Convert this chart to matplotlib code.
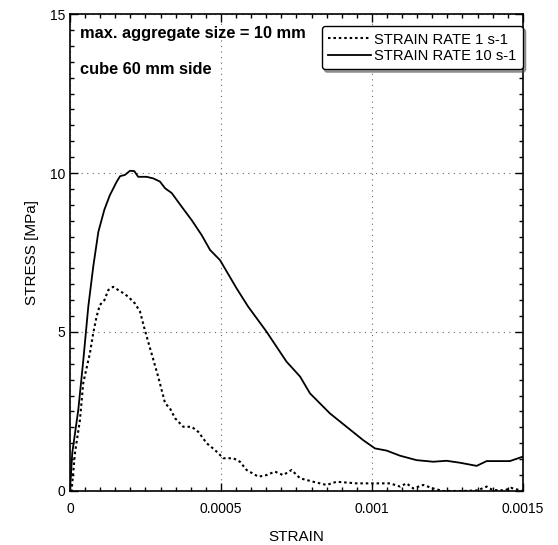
import numpy as np
import matplotlib.pyplot as plt
from matplotlib.ticker import MultipleLocator, FixedLocator, FuncFormatter

plt.rcParams['font.family'] = ['Liberation Sans', 'DejaVu Sans']

# strain rate 10 s-1 (solid)
strain_10 = [0.0, 0.0000076, 0.0000275, 0.000044, 0.0000607, 0.000077, 0.000094,
             0.000114, 0.000132, 0.000155, 0.000166, 0.000182, 0.000199, 0.000213,
             0.000226, 0.000254, 0.000276, 0.000298, 0.000315, 0.000337, 0.00037,
             0.000403, 0.000436, 0.000464, 0.000497, 0.000552, 0.00059, 0.000651,
             0.000717, 0.000762, 0.000795, 0.000861, 0.000916, 0.000971, 0.00101,
             0.001049, 0.001093, 0.001148, 0.001203, 0.001247, 0.001291, 0.001347,
             0.00138, 0.001457, 0.0015]
stress_10 = [0.0, 1.2, 2.55, 4.1, 5.8, 7.05, 8.15,
             8.85, 9.3, 9.73, 9.9, 9.94, 10.07, 10.06,
             9.88, 9.88, 9.83, 9.73, 9.52, 9.37, 8.94,
             8.52, 8.05, 7.58, 7.26, 6.37, 5.8, 5.01,
             4.07, 3.6, 3.07, 2.44, 2.02, 1.6, 1.34,
             1.27, 1.11, 0.97, 0.92, 0.95, 0.89, 0.79,
             0.94, 0.94, 1.08]

# strain rate 1 s-1 (dotted)
strain_1 = [0.0, 0.0000055, 0.0000166, 0.000033, 0.000044, 0.000066, 0.000077,
            0.000088, 0.000099, 0.000114, 0.000127, 0.000143, 0.00016, 0.000177,
            0.000193, 0.000215, 0.000232, 0.000248, 0.00027, 0.000292, 0.000315,
            0.000331, 0.000348, 0.000375, 0.000403, 0.000425, 0.000453, 0.00048,
            0.000508, 0.000541, 0.000563, 0.000585, 0.000624, 0.000651, 0.000679,
            0.000706, 0.000734, 0.000762, 0.000806, 0.00085, 0.000883, 0.000949,
            0.001004, 0.00106, 0.001093, 0.001115, 0.001137, 0.00117, 0.001203,
            0.001236, 0.0013, 0.00135, 0.00138, 0.0014, 0.00144, 0.00146, 0.0015]
stress_1 = [0.0, 0.03, 1.2, 2.23, 3.4, 4.33, 4.96,
            5.48, 5.85, 6.0, 6.32, 6.42, 6.32, 6.22,
            6.11, 5.9, 5.64, 5.06, 4.33, 3.6, 2.76,
            2.6, 2.29, 2.02, 2.02, 1.86, 1.5, 1.29,
            1.03, 1.03, 0.92, 0.66, 0.45, 0.5, 0.61,
            0.5, 0.66, 0.4, 0.29, 0.19, 0.29, 0.24,
            0.24, 0.24, 0.14, 0.24, 0.08, 0.19, 0.08,
            0.0, 0.0, 0.02, 0.14, 0.03, 0.02, 0.1, 0.0]

labels = ['STRAIN RATE 1 s-1', 'STRAIN RATE 10 s-1']


def fmt_x(v, pos):
    if abs(v) < 1e-12:
        return '0'
    return ('%.4f' % v).rstrip('0')


fig = plt.figure(figsize=(5.58, 5.45), dpi=100)
ax = fig.add_axes([0.1254, 0.0991, 0.8116, 0.8752])

ax.plot(strain_1, stress_1, color='black', linestyle=(0, (1.2, 1.4)), linewidth=1.5,
        label=labels[0])
ax.plot(strain_10, stress_10, color='black', linestyle='-', linewidth=1.3,
        label=labels[1])

ax.set_xlim(0, 0.0015)
ax.set_ylim(0, 15)
ax.xaxis.set_major_locator(FixedLocator([0, 0.0005, 0.001, 0.0015]))
ax.xaxis.set_major_formatter(FuncFormatter(fmt_x))
ax.xaxis.set_minor_locator(MultipleLocator(0.00005))
ax.yaxis.set_major_locator(MultipleLocator(5))
ax.yaxis.set_minor_locator(MultipleLocator(0.5))
ax.tick_params(which='both', direction='in', top=True, right=True, labelsize=10)
ax.tick_params(which='major', length=6, width=1)
ax.tick_params(which='minor', length=3, width=1)
ax.tick_params(axis='x', pad=8)
for s in ax.spines.values():
    s.set_linewidth(1.2)

ax.grid(True, which='major', color='#666666', linestyle=(0, (1, 4)), linewidth=0.8)

ax.set_xlabel('STRAIN', fontsize=11, labelpad=10)
ax.set_ylabel('STRESS [MPa]', fontsize=11, labelpad=8)

ax.text(0.000032, 14.4, 'max. aggregate size = 10 mm', fontsize=11.8,
        fontweight='bold', va='center', ha='left')
ax.text(0.000032, 13.24, 'cube 60 mm side', fontsize=11.8,
        fontweight='bold', va='center', ha='left')

leg = ax.legend(loc='upper right', bbox_to_anchor=(1.0, 0.975), borderaxespad=0,
                fontsize=10.6, frameon=True, fancybox=True, shadow=True,
                handlelength=2.9, handletextpad=0.2, borderpad=0.45,
                labelspacing=0.15)
leg.get_frame().set_edgecolor('black')
leg.get_frame().set_linewidth(1.0)

fig.savefig('out.png', dpi=100)
